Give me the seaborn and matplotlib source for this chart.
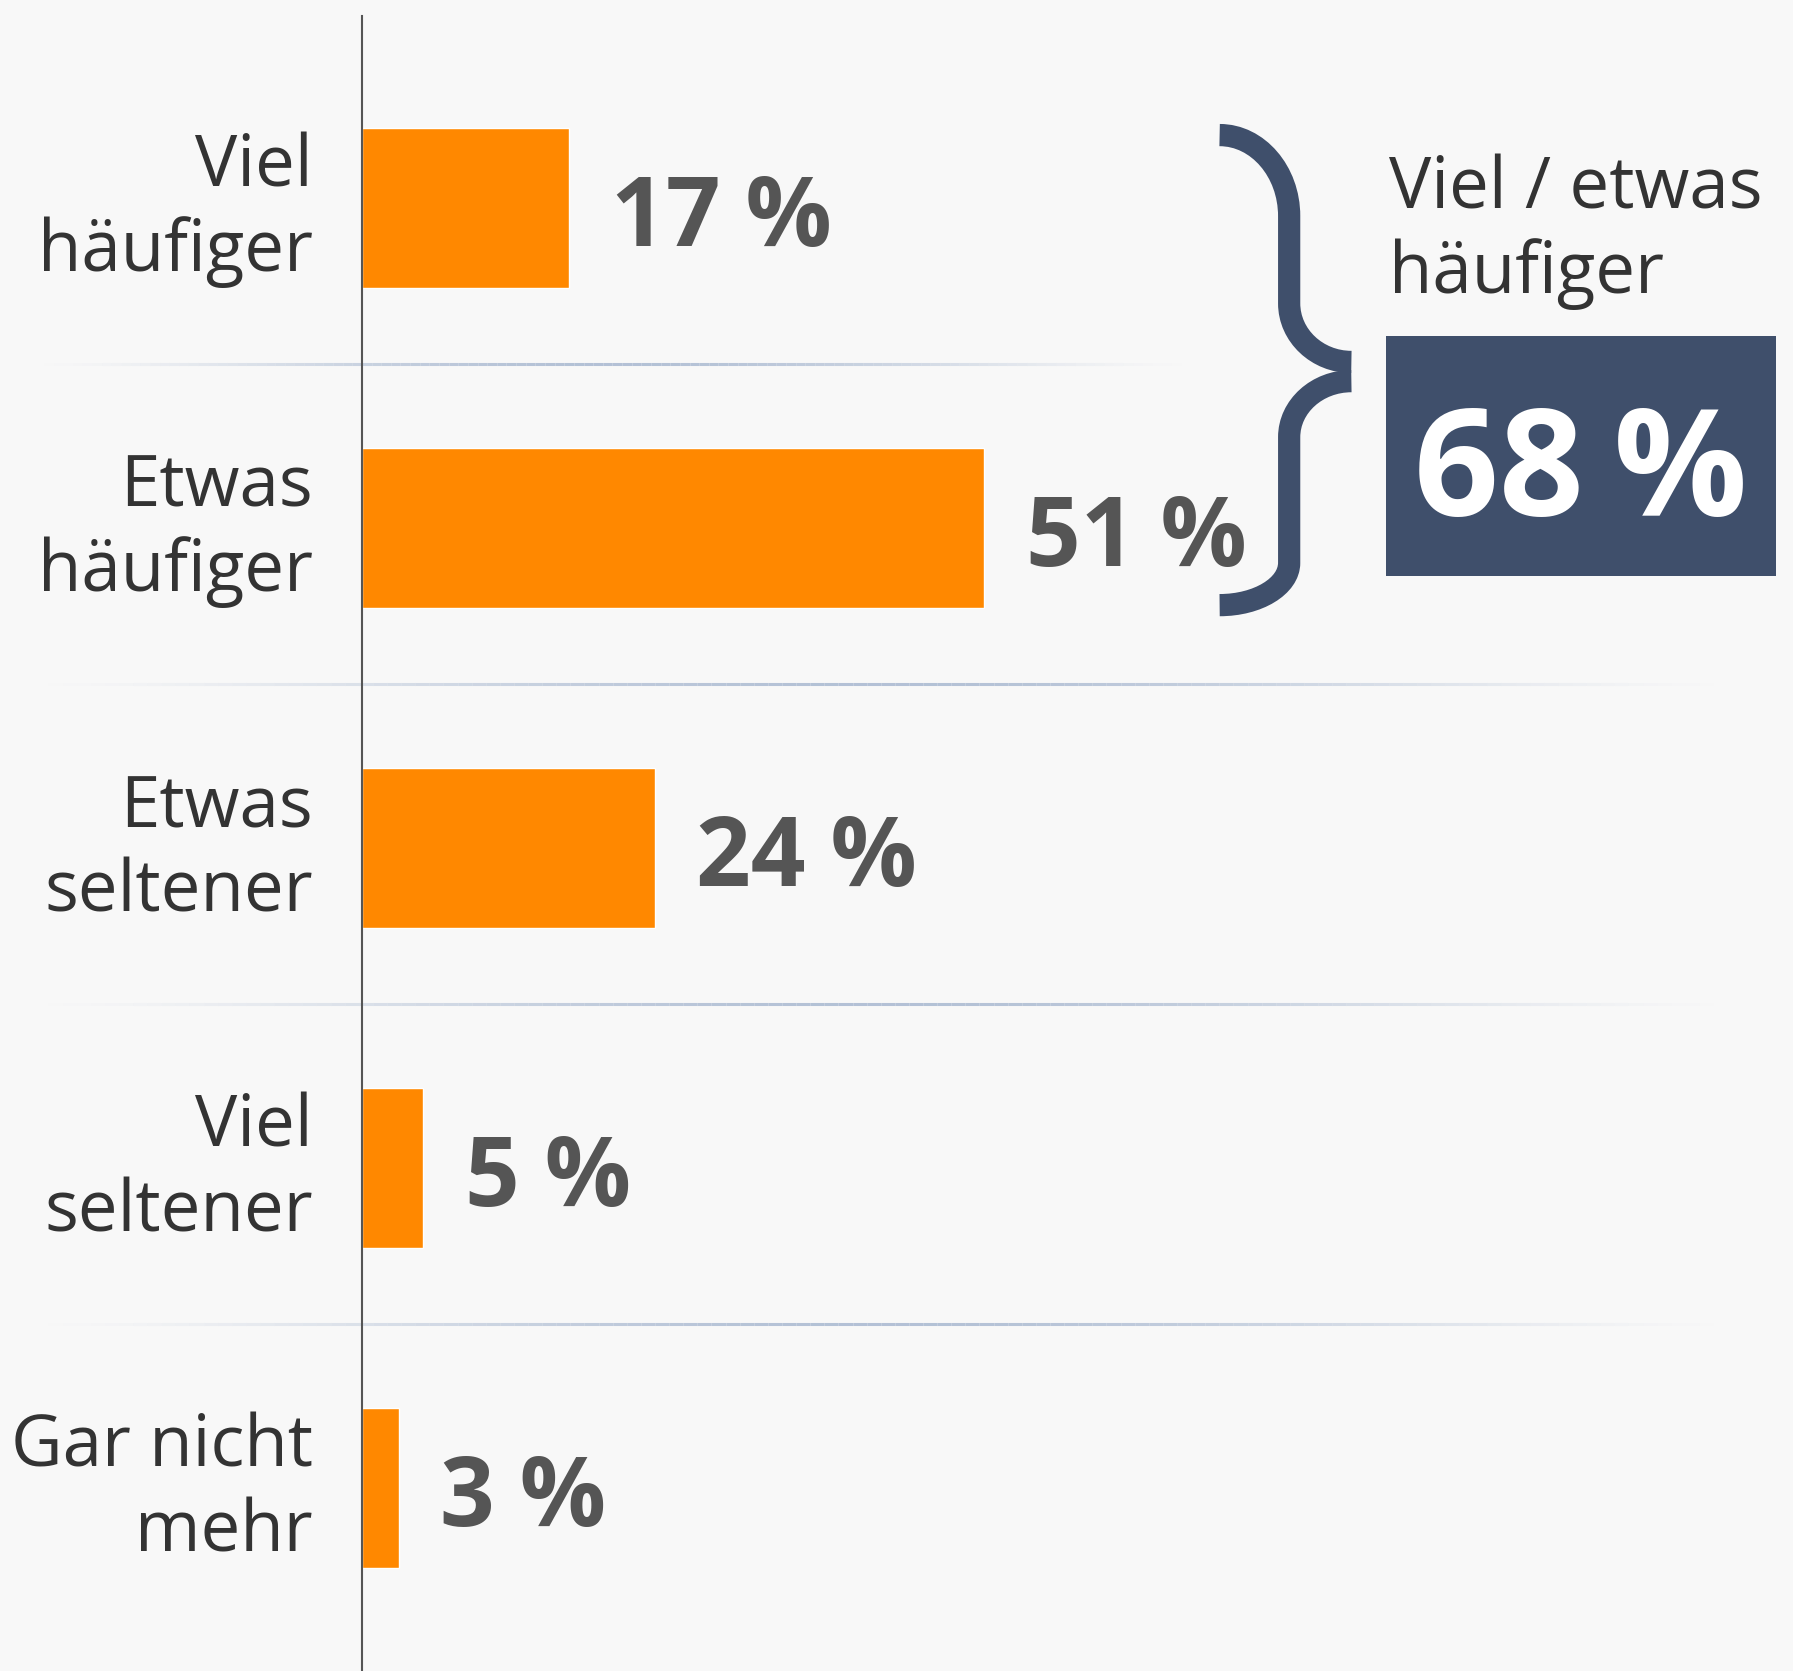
import numpy as np
import matplotlib
matplotlib.use("Agg")
import matplotlib.pyplot as plt
import matplotlib.transforms as mtransforms
import seaborn as sns
from matplotlib.path import Path
from matplotlib.patches import PathPatch, Rectangle
from matplotlib.collections import LineCollection

# Data
categories = ["Viel\nhäufiger", "Etwas\nhäufiger", "Etwas\nseltener", "Viel\nseltener", "Gar nicht\nmehr"]
values = [17, 51, 24, 5, 3]
value_labels = [f"{v} %" for v in values]
group_label = "Viel / etwas\nhäufiger"
group_value = values[0] + values[1]

sns.set_theme(style="white")
plt.rcParams["font.family"] = ["Open Sans", "DejaVu Sans"]

bg = "#f8f8f8"
orange = "#ff8800"
navy = "#3f4f6b"
text_dark = "#333333"
text_grey = "#555555"

fig = plt.figure(figsize=(17.93, 16.71), dpi=100, facecolor=bg)
ax = fig.add_axes([0.2019, 0.0, 0.7981, 0.9904])
ax.set_facecolor(bg)

# Bars
sns.barplot(x=values, y=categories, orient="h", color=orange, width=0.5,
            saturation=1, errorbar=None, ax=ax)
ax.set_xlim(0, 117.3)
ax.set_ylim(4.572, -0.6)
ax.set_xlabel("")
ax.set_ylabel("")
ax.set_xticks([])

for side in ["top", "right", "bottom"]:
    ax.spines[side].set_visible(False)
ax.spines["left"].set_color(text_grey)
ax.spines["left"].set_linewidth(1.5)

ax.tick_params(axis="y", length=0, pad=35.5, labelsize=51, labelcolor=text_dark)
shift_up = mtransforms.ScaledTranslation(0, 9 / 72, fig.dpi_scale_trans)
for lbl in ax.get_yticklabels():
    lbl.set_linespacing(1.23)
    lbl.set_multialignment("right")
    lbl.set_transform(lbl.get_transform() + shift_up)

# Value labels
anns = ax.bar_label(ax.containers[0], labels=value_labels, padding=30, fontsize=69,
                    fontweight="bold", color=text_grey)
for a in anns:
    a.xyann = (30, -9)

# Separator lines with faded ends
sep_color = np.array(matplotlib.colors.to_rgb("#a8b8d0"))
for i in range(len(categories) - 1):
    y = i + 0.5 - 0.012
    xa, xb = -0.229, (0.579 if i == 0 else 0.954)
    xs = np.linspace(xa, xb, 121)
    segs = [[(xs[k], y), (xs[k + 1], y)] for k in range(len(xs) - 1)]
    t = (xs[:-1] + xs[1:]) / 2
    t = (t - xa) / (xb - xa)
    alpha = np.clip(np.sin(np.pi * t) ** 1.5, 0, 1) * 0.85
    cols = [(*sep_color, a) for a in alpha]
    lc = LineCollection(segs, colors=cols, linewidths=2.2,
                        transform=ax.get_yaxis_transform(), clip_on=False, zorder=0)
    ax.add_collection(lc)

# Brace around first two bars (two halves meeting at the point)
x0, xs_, xt = 70.3, 76.0, 81.1
k = 0.55
top_half = [
    (x0, -0.228),
    (x0 + k * (xs_ - x0), -0.228), (xs_, 0.025 - k * (0.025 + 0.228)), (xs_, 0.025),
    (xs_, 0.298),
    (xs_, 0.298 + k * (0.481 - 0.298)), (xt - k * (xt - xs_), 0.481), (xt, 0.481),
]
bottom_half = [
    (xt, 0.541),
    (xt - k * (xt - xs_), 0.541), (xs_, 0.716 - k * (0.716 - 0.541)), (xs_, 0.716),
    (xs_, 1.109),
    (xs_, 1.109 + k * (1.241 - 1.109)), (x0 + k * (xs_ - x0), 1.241), (x0, 1.241),
]
codes = [Path.MOVETO, Path.CURVE4, Path.CURVE4, Path.CURVE4,
         Path.LINETO, Path.CURVE4, Path.CURVE4, Path.CURVE4]
for half in (top_half, bottom_half):
    ax.add_patch(PathPatch(Path(half, codes), facecolor="none", edgecolor=navy,
                           linewidth=16, capstyle="butt", joinstyle="round"))

# Summary box
ax.add_patch(Rectangle((83.9, 0.40), 32.0, 0.75, facecolor=navy, edgecolor="none"))
ax.text(99.9, 0.842, f"{group_value}\u2009%", ha="center", va="center", fontsize=107,
        fontweight="bold", color="white")
ax.text(84.2, -0.168, group_label, ha="left", va="top", fontsize=51,
        color=text_dark, linespacing=1.23)

fig.savefig("out.png", dpi=100, facecolor=bg)
